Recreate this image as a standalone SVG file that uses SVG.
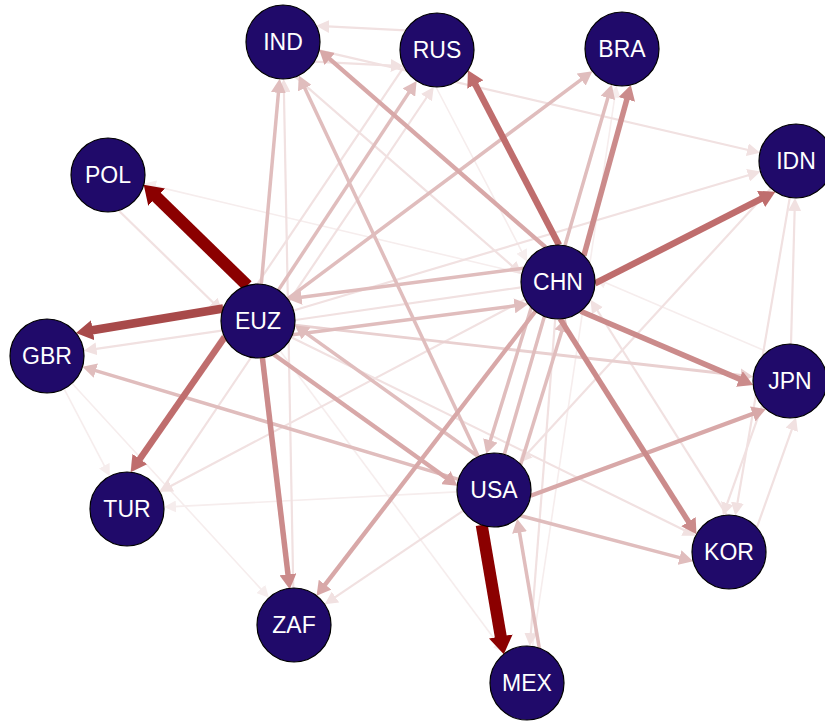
<svg xmlns="http://www.w3.org/2000/svg" width="825" height="722" viewBox="0 0 825 722">
<style>
line{fill:none;stroke-linecap:butt}
.c1{stroke:#8b0000;stroke-width:12;marker-end:url(#m1)}
.c2{stroke:#a84a4a;stroke-width:8.5;marker-end:url(#m2)}
.c3{stroke:#bf6d6d;stroke-width:6.5;marker-end:url(#m3)}
.c4{stroke:#cb8b8b;stroke-width:5.5;marker-end:url(#m4)}
.c5{stroke:#d8a8a8;stroke-width:4.3;marker-end:url(#m5)}
.c6{stroke:#e0bdbd;stroke-width:3.5;marker-end:url(#m6)}
.c7{stroke:#e9d0d0;stroke-width:2.8;marker-end:url(#m7)}
.c8{stroke:#f1e1e1;stroke-width:2.2;marker-end:url(#m8)}
.c9{stroke:#f6eded;stroke-width:1.6;marker-end:url(#m9)}
.node circle{fill:#200a6a;stroke:#000;stroke-width:1.2}
.node text{fill:#fff;font-family:"Liberation Sans",Arial,sans-serif;font-size:23px;text-anchor:middle}
</style>
<defs>
<marker id="m1" markerUnits="userSpaceOnUse" viewBox="0 0 18 24" markerWidth="18" markerHeight="24" refX="2" refY="12" orient="auto"><path d="M0,0L18,12L0,24Z" fill="#8b0000"/></marker>
<marker id="m2" markerUnits="userSpaceOnUse" viewBox="0 0 17 20" markerWidth="17" markerHeight="20" refX="2" refY="10" orient="auto"><path d="M0,0L17,10L0,20Z" fill="#a84a4a"/></marker>
<marker id="m3" markerUnits="userSpaceOnUse" viewBox="0 0 16 18" markerWidth="16" markerHeight="18" refX="2" refY="9" orient="auto"><path d="M0,0L16,9L0,18Z" fill="#bf6d6d"/></marker>
<marker id="m4" markerUnits="userSpaceOnUse" viewBox="0 0 15 17" markerWidth="15" markerHeight="17" refX="1" refY="8.5" orient="auto"><path d="M0,0L15,8.5L0,17Z" fill="#cb8b8b"/></marker>
<marker id="m5" markerUnits="userSpaceOnUse" viewBox="0 0 14 16" markerWidth="14" markerHeight="16" refX="1" refY="8" orient="auto"><path d="M0,0L14,8L0,16Z" fill="#d8a8a8"/></marker>
<marker id="m6" markerUnits="userSpaceOnUse" viewBox="0 0 14 15" markerWidth="14" markerHeight="15" refX="2" refY="7.5" orient="auto"><path d="M0,0L14,7.5L0,15Z" fill="#e0bdbd"/></marker>
<marker id="m7" markerUnits="userSpaceOnUse" viewBox="0 0 13 14" markerWidth="13" markerHeight="14" refX="1" refY="7" orient="auto"><path d="M0,0L13,7L0,14Z" fill="#e9d0d0"/></marker>
<marker id="m8" markerUnits="userSpaceOnUse" viewBox="0 0 13 13" markerWidth="13" markerHeight="13" refX="2" refY="6.5" orient="auto"><path d="M0,0L13,6.5L0,13Z" fill="#f1e1e1"/></marker>
<marker id="m9" markerUnits="userSpaceOnUse" viewBox="0 0 12 12" markerWidth="12" markerHeight="12" refX="2" refY="6" orient="auto"><path d="M0,0L12,6L0,12Z" fill="#f6eded"/></marker>
</defs>
<rect width="825" height="722" fill="#fff"/>
<g id="edges">
<line class="c9" x1="522.0" y1="273.4" x2="153.7" y2="185.9"/>
<line class="c9" x1="64.1" y1="388.8" x2="105.2" y2="467.4"/>
<line class="c9" x1="72.0" y1="383.3" x2="262.2" y2="590.4"/>
<line class="c9" x1="457.0" y1="491.9" x2="174.0" y2="506.6"/>
<line class="c9" x1="532.5" y1="646.4" x2="615.0" y2="95.5"/>
<line class="c9" x1="280.1" y1="350.7" x2="499.0" y2="645.3"/>
<line class="c9" x1="767.3" y1="351.8" x2="604.0" y2="282.0"/>
<line class="c9" x1="436.0" y1="87.0" x2="522.5" y2="252.8"/>
<line class="c8" x1="118.6" y1="210.5" x2="214.4" y2="303.7"/>
<line class="c8" x1="726.9" y1="515.1" x2="596.4" y2="309.0"/>
<line class="c8" x1="295.5" y1="76.8" x2="513.5" y2="267.1"/>
<line class="c8" x1="521.4" y1="287.3" x2="94.5" y2="349.1"/>
<line class="c8" x1="405.6" y1="30.3" x2="327.2" y2="26.3"/>
<line class="c8" x1="314.4" y1="61.7" x2="392.8" y2="65.7"/>
<line class="c8" x1="319.0" y1="50.4" x2="749.3" y2="150.2"/>
<line class="c8" x1="293.5" y1="310.5" x2="750.0" y2="174.7"/>
<line class="c8" x1="791.0" y1="344.0" x2="794.7" y2="209.0"/>
<line class="c8" x1="771.0" y1="188.3" x2="526.4" y2="454.6"/>
<line class="c8" x1="789.8" y1="197.5" x2="737.1" y2="504.7"/>
<line class="c8" x1="756.8" y1="527.6" x2="792.4" y2="427.9"/>
<line class="c8" x1="762.2" y1="405.4" x2="726.6" y2="505.1"/>
<line class="c8" x1="291.2" y1="337.3" x2="685.9" y2="530.9"/>
<line class="c8" x1="525.3" y1="299.2" x2="169.4" y2="486.7"/>
<line class="c8" x1="160.0" y1="492.3" x2="427.6" y2="96.0"/>
<line class="c8" x1="404.0" y1="66.7" x2="136.4" y2="463.0"/>
<line class="c8" x1="463.3" y1="510.7" x2="333.8" y2="598.1"/>
<line class="c8" x1="293.3" y1="588.0" x2="283.9" y2="90.0"/>
<line class="c8" x1="555.2" y1="318.9" x2="530.7" y2="635.1"/>
<line class="c7" x1="294.8" y1="325.2" x2="741.3" y2="375.5"/>
<line class="c6" x1="539.3" y1="648.1" x2="519.2" y2="530.6"/>
<line class="c6" x1="520.7" y1="515.7" x2="681.5" y2="558.1"/>
<line class="c6" x1="531.3" y1="307.6" x2="489.8" y2="442.3"/>
<line class="c6" x1="520.7" y1="464.4" x2="562.2" y2="329.7"/>
<line class="c6" x1="504.3" y1="454.5" x2="608.4" y2="96.0"/>
<line class="c6" x1="287.6" y1="298.9" x2="582.8" y2="78.4"/>
<line class="c6" x1="278.4" y1="290.1" x2="410.0" y2="90.9"/>
<line class="c6" x1="261.3" y1="284.1" x2="278.6" y2="90.8"/>
<line class="c6" x1="478.2" y1="456.5" x2="303.9" y2="86.3"/>
<line class="c6" x1="458.6" y1="479.4" x2="93.9" y2="370.1"/>
<line class="c6" x1="523.6" y1="268.3" x2="299.6" y2="297.5"/>
<line class="c6" x1="292.4" y1="334.7" x2="516.4" y2="305.6"/>
<line class="c6" x1="478.2" y1="456.5" x2="304.5" y2="332.2"/>
<line class="c5" x1="273.8" y1="354.5" x2="446.7" y2="478.2"/>
<line class="c5" x1="530.6" y1="495.7" x2="753.7" y2="413.6"/>
<line class="c5" x1="535.4" y1="311.3" x2="324.5" y2="585.4"/>
<line class="c5" x1="545.5" y1="247.2" x2="329.0" y2="58.3"/>
<line class="c4" x1="583.9" y1="255.6" x2="627.1" y2="98.5"/>
<line class="c4" x1="580.7" y1="311.3" x2="740.3" y2="379.4"/>
<line class="c4" x1="560.1" y1="318.9" x2="689.0" y2="522.5"/>
<line class="c4" x1="262.4" y1="357.7" x2="288.1" y2="575.3"/>
<line class="c3" x1="224.7" y1="337.2" x2="138.7" y2="460.7"/>
<line class="c3" x1="595.0" y1="283.4" x2="762.9" y2="198.0"/>
<line class="c3" x1="559.0" y1="245.0" x2="474.4" y2="82.7"/>
<line class="c2" x1="223.2" y1="308.5" x2="90.75" y2="330.5"/>
<line class="c1" x1="247.4" y1="285.6" x2="155.2" y2="195.8"/>
<line class="c1" x1="481.7" y1="524.9" x2="501.1" y2="638.4"/>
</g>
<g id="node-IND" class="node"><circle cx="283" cy="42" r="37"/><text x="283" y="50">IND</text></g>
<g id="node-RUS" class="node"><circle cx="437" cy="50" r="37"/><text x="437" y="58">RUS</text></g>
<g id="node-BRA" class="node"><circle cx="622" cy="49" r="37"/><text x="622" y="57">BRA</text></g>
<g id="node-POL" class="node"><circle cx="108" cy="175" r="37"/><text x="108" y="183">POL</text></g>
<g id="node-IDN" class="node"><circle cx="796" cy="161" r="37"/><text x="796" y="169">IDN</text></g>
<g id="node-CHN" class="node"><circle cx="558" cy="282" r="37"/><text x="558" y="290">CHN</text></g>
<g id="node-EUZ" class="node"><circle cx="258" cy="321" r="37"/><text x="258" y="329">EUZ</text></g>
<g id="node-GBR" class="node"><circle cx="47" cy="356" r="37"/><text x="47" y="364">GBR</text></g>
<g id="node-JPN" class="node"><circle cx="790" cy="381" r="37"/><text x="790" y="389">JPN</text></g>
<g id="node-USA" class="node"><circle cx="494" cy="490" r="37"/><text x="494" y="498">USA</text></g>
<g id="node-TUR" class="node"><circle cx="127" cy="509" r="37"/><text x="127" y="517">TUR</text></g>
<g id="node-KOR" class="node"><circle cx="729" cy="552" r="37"/><text x="729" y="560">KOR</text></g>
<g id="node-ZAF" class="node"><circle cx="294" cy="625" r="37"/><text x="294" y="633">ZAF</text></g>
<g id="node-MEX" class="node"><circle cx="527" cy="683" r="37"/><text x="527" y="691">MEX</text></g>
</svg>
